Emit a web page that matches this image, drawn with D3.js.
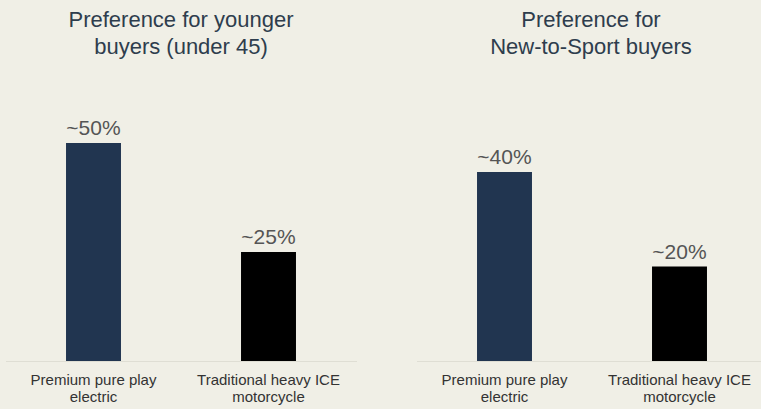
<!DOCTYPE html>
<html>
<head>
<meta charset="utf-8">
<script src="https://cdn.jsdelivr.net/npm/d3@7"></script>
<style>
	body { margin: 0; background: #f0efe6; }
	svg { display: block; }
</style>
</head>
<body>
<div id="chart"></div>
<script>

	//Data
	var categories = ["Premium pure play electric", "Traditional heavy ICE motorcycle"];
	var categoryLines = [["Premium pure play", "electric"], ["Traditional heavy ICE", "motorcycle"]];
	var youngerValues = [50, 25];
	var newToSportValues = [40, 20];
	var valueLabelsYounger = ["~50%", "~25%"];
	var valueLabelsNew = ["~40%", "~20%"];
	var titleYounger = ["Preference for younger", "buyers (under 45)"];
	var titleNew = ["Preference for", "New-to-Sport buyers"];
	var barColors = ["#213550", "#000000"];

	//Width and height
	var w = 761;
	var h = 409;
	var baseY = 361;

	var svg = d3.select("#chart")
				.append("svg")
				.attr("width", w)
				.attr("height", h);

	svg.append("rect")
	   .attr("width", w)
	   .attr("height", h)
	   .attr("fill", "#f0efe6");

	drawPanel(youngerValues, valueLabelsYounger, titleYounger, 6, 143, 181);
	drawPanel(newToSportValues, valueLabelsNew, titleNew, 417, 172, 591);

	function drawPanel(values, valueLabels, title, x0, topY, titleX) {

		var x = d3.scaleBand()
				  .domain(categories)
				  .range([x0, x0 + 350])
				  .paddingInner(0.686)
				  .paddingOuter(0.343);

		//top of the tallest bar sets the scale
		var y = d3.scaleLinear()
				  .domain([0, d3.max(values)])
				  .range([baseY, topY]);

		var g = svg.append("g");

		//baseline
		g.append("line")
		 .attr("x1", x0)
		 .attr("x2", x0 + 351)
		 .attr("y1", baseY + 0.5)
		 .attr("y2", baseY + 0.5)
		 .attr("stroke", "#dfded4")
		 .attr("stroke-width", 1);

		g.selectAll("rect.bar")
		 .data(values)
		 .enter()
		 .append("rect")
		 .attr("class", "bar")
		 .attr("x", function(d, i) { return x(categories[i]); })
		 .attr("y", function(d) { return y(d); })
		 .attr("width", x.bandwidth())
		 .attr("height", function(d) { return baseY - y(d); })
		 .attr("fill", function(d, i) { return barColors[i]; });

		//value labels above bars
		g.selectAll("text.value")
		 .data(values)
		 .enter()
		 .append("text")
		 .attr("class", "value")
		 .attr("x", function(d, i) { return x(categories[i]) + x.bandwidth() / 2; })
		 .attr("y", function(d) { return y(d) - 8; })
		 .attr("text-anchor", "middle")
		 .attr("font-family", "'Liberation Sans', Arial, sans-serif")
		 .attr("font-size", "21px")
		 .attr("fill", "#555555")
		 .text(function(d, i) { return valueLabels[i]; });

		//category labels under the baseline
		var cat = g.selectAll("text.cat")
				   .data(categories)
				   .enter()
				   .append("text")
				   .attr("class", "cat")
				   .attr("text-anchor", "middle")
				   .attr("font-family", "'Liberation Sans', Arial, sans-serif")
				   .attr("font-size", "15px")
				   .attr("fill", "#333333");

		cat.selectAll("tspan")
		   .data(function(d, i) { return categoryLines[i].map(function(t) { return [t, x(d) + x.bandwidth() / 2]; }); })
		   .enter()
		   .append("tspan")
		   .attr("x", function(d) { return d[1]; })
		   .attr("y", function(d, i) { return 385 + i * 17; })
		   .text(function(d) { return d[0]; });

		//title
		g.selectAll("text.title")
		 .data(title)
		 .enter()
		 .append("text")
		 .attr("class", "title")
		 .attr("x", titleX)
		 .attr("y", function(d, i) { return 27 + i * 27; })
		 .attr("text-anchor", "middle")
		 .attr("font-family", "'Liberation Sans', Arial, sans-serif")
		 .attr("font-size", "22px")
		 .attr("fill", "#2e3d4d")
		 .text(function(d) { return d; });
	}

</script>
</body>
</html>
